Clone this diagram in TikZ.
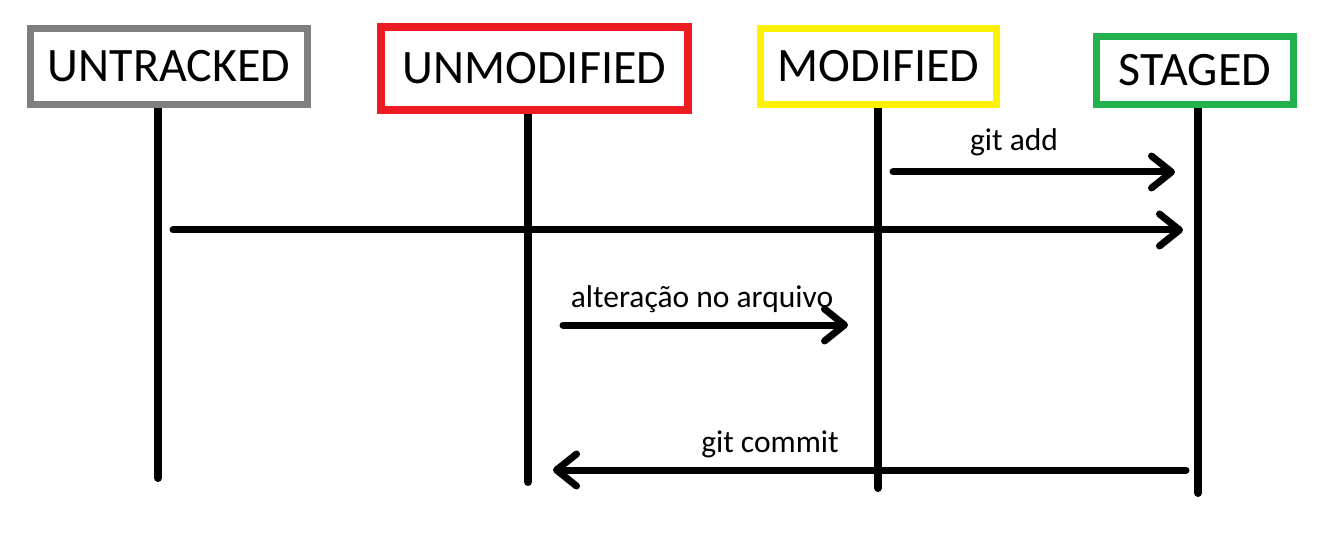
\documentclass[tikz,border=0pt]{standalone}
\usepackage{fontspec}
\setmainfont{Carlito}
\usetikzlibrary{arrows.meta}
\definecolor{pgray}{RGB}{127,127,127}
\definecolor{pred}{RGB}{237,28,36}
\definecolor{pyellow}{RGB}{255,242,0}
\definecolor{pgreen}{RGB}{34,177,76}
\begin{document}
\begin{tikzpicture}[x=1pt,y=-1pt,
  state/.style={draw, fill=white, inner sep=0pt, font=\fontsize{48}{50}\selectfont, line width=7.5pt},
  life/.style={line width=8pt, line cap=round},
  msg/.style={line width=7pt, line cap=round, -{Straight Barb[length=20pt,width=32pt,line cap=round,line join=round]}},
  lbl/.style={font=\fontsize{31.5}{34}\selectfont, inner sep=0pt, anchor=base}]
\useasboundingbox[fill=white] (0,0) rectangle (1333,545);
% lifeline ends
\coordinate (utT) at (158,104); \coordinate (utB) at (158,478);
\coordinate (umT) at (528,112); \coordinate (umB) at (528,482);
\coordinate (moT) at (878,104); \coordinate (moB) at (878,488);
\coordinate (stT) at (1198,104); \coordinate (stB) at (1198,493);
\draw[life] (utT) -- (utB);
\draw[life] (umT) -- (umB);
\draw[life] (moT) -- (moB);
\draw[life] (stT) -- (stB);
% state boxes
\node[state, draw=pgray, minimum width=277pt, minimum height=76pt] (untracked) at (169,66.5) {UNTRACKED};
\node[state, draw=pred, minimum width=307pt, minimum height=83pt, line width=8pt] (unmodified) at (534.5,68.5) {UNMODIFIED};
\node[state, draw=pyellow, minimum width=236pt, minimum height=76pt] (modified) at (878.5,66.5) {MODIFIED};
\node[state, draw=pgreen, minimum width=197pt, minimum height=68pt] (staged) at (1195,70.5) {STAGED};
% message end points
\coordinate (addS) at (893,172); \coordinate (addE) at (1175,172);
\coordinate (trS) at (173,230); \coordinate (trE) at (1183,230);
\coordinate (altS) at (563,325); \coordinate (altE) at (848,325);
\coordinate (comS) at (1186,470); \coordinate (comE) at (553,470);
\draw[msg] (addS) -- (addE);
\draw[msg] (trS) -- (trE);
\draw[msg] (altS) -- (altE);
\draw[msg] (comS) -- (comE);
% labels
\node[lbl] (addL) at (1014,151) {git add};
\node[lbl] (altL) at (702,308) {alteração no arquivo};
\node[lbl] (comL) at (770,452) {git commit};
\end{tikzpicture}
\end{document}
